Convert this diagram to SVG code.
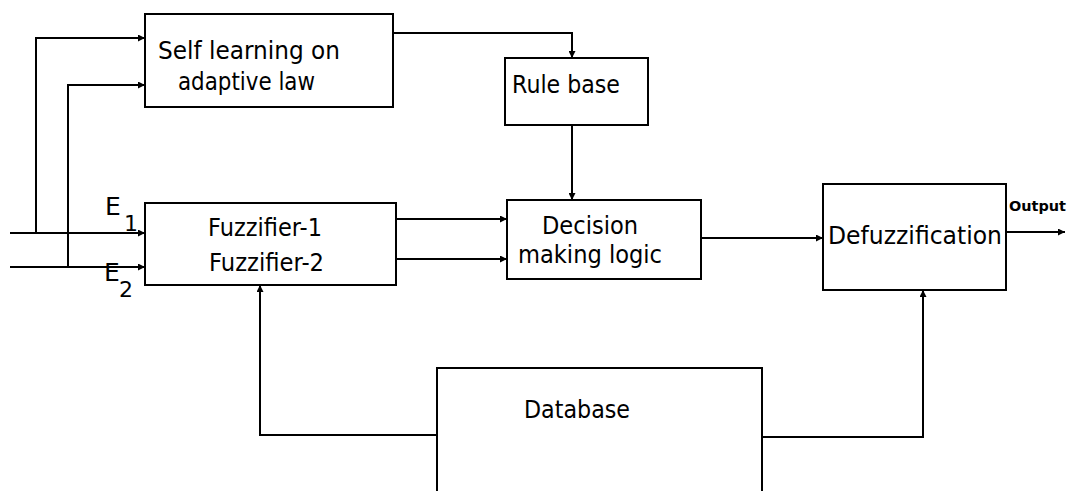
<svg xmlns="http://www.w3.org/2000/svg" width="1068" height="491" viewBox="0 0 1068 491">
<style>
.box{fill:#fff;stroke:#000;stroke-width:2}
.ln{fill:none;stroke:#000;stroke-width:2}
.t{font-family:"DejaVu Sans","Liberation Sans",sans-serif;font-size:24px;fill:#000}
.lab{font-family:"DejaVu Sans","Liberation Sans",sans-serif;fill:#000}
</style>
<defs>
<marker id="ar" viewBox="0 0 10 10" refX="10" refY="5" markerWidth="7" markerHeight="7" markerUnits="userSpaceOnUse" orient="auto">
<path d="M0,0 L10,5 L0,10 z" fill="#000"/>
</marker>
</defs>
<rect width="1068" height="491" fill="#fff"/>
<g id="connectors">
<path class="ln" d="M10,233 H145" marker-end="url(#ar)"/>
<path class="ln" d="M10,267 H145" marker-end="url(#ar)"/>
<path class="ln" d="M36,233 V38 H145" marker-end="url(#ar)"/>
<path class="ln" d="M68,267 V85 H145" marker-end="url(#ar)"/>
<path class="ln" d="M393,33 H572 V58" marker-end="url(#ar)"/>
<path class="ln" d="M572,125 V200" marker-end="url(#ar)"/>
<path class="ln" d="M396,219 H507" marker-end="url(#ar)"/>
<path class="ln" d="M396,259 H507" marker-end="url(#ar)"/>
<path class="ln" d="M701,238 H823" marker-end="url(#ar)"/>
<path class="ln" d="M1006,232 H1065" marker-end="url(#ar)"/>
<path class="ln" d="M437,435 H260 V285" marker-end="url(#ar)"/>
<path class="ln" d="M762,437 H923 V290" marker-end="url(#ar)"/>
</g>
<g id="selflearning">
<rect class="box" x="145" y="14" width="248" height="93"/>
<text class="t" x="158" y="59" textLength="182" lengthAdjust="spacingAndGlyphs">Self learning on</text>
<text class="t" x="178" y="90" textLength="137" lengthAdjust="spacingAndGlyphs">adaptive law</text>
</g>
<g id="rulebase">
<rect class="box" x="505" y="58" width="143" height="67"/>
<text class="t" x="512" y="93" textLength="108" lengthAdjust="spacingAndGlyphs">Rule base</text>
</g>
<g id="fuzzifier">
<rect class="box" x="145" y="203" width="251" height="82"/>
<text class="t" x="208" y="236" textLength="114" lengthAdjust="spacingAndGlyphs">Fuzzifier-1</text>
<text class="t" x="209" y="271" textLength="115" lengthAdjust="spacingAndGlyphs">Fuzzifier-2</text>
</g>
<g id="decision">
<rect class="box" x="507" y="200" width="194" height="79"/>
<text class="t" x="542" y="234" textLength="96" lengthAdjust="spacingAndGlyphs">Decision</text>
<text class="t" x="518" y="263" textLength="144" lengthAdjust="spacingAndGlyphs">making logic</text>
</g>
<g id="defuzzification">
<rect class="box" x="823" y="184" width="183" height="106"/>
<text class="t" x="828" y="244" textLength="174" lengthAdjust="spacingAndGlyphs">Defuzzification</text>
</g>
<g id="database">
<path class="box" d="M437,495 V368 H762 V495"/>
<text class="t" x="524" y="418" textLength="106" lengthAdjust="spacingAndGlyphs">Database</text>
</g>
<g id="labels">
<text class="lab" x="105" y="215" font-size="25">E</text>
<text class="lab" x="124" y="231" font-size="22">1</text>
<text class="lab" x="104" y="281" font-size="25">E</text>
<text class="lab" x="119" y="297" font-size="22">2</text>
<text class="lab" x="1009" y="211" font-size="14" font-weight="bold" textLength="57" lengthAdjust="spacingAndGlyphs">Output</text>
</g>
</svg>
